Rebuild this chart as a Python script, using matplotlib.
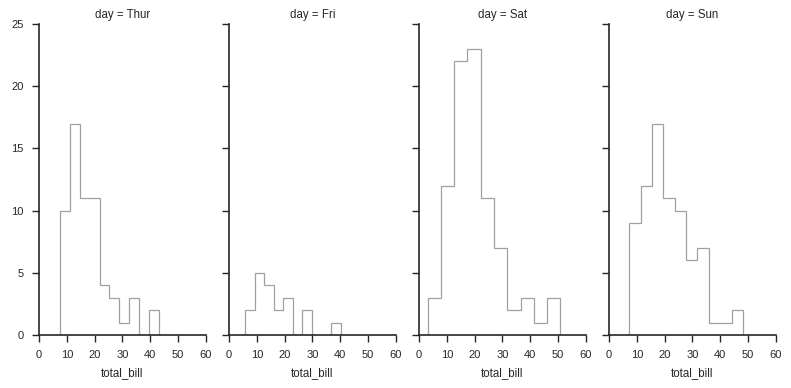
import numpy as np
import matplotlib
matplotlib.use("Agg")
import matplotlib.pyplot as plt
import seaborn as sns

# tips total_bill histograms per day, 10 bins each
days = ["Thur", "Fri", "Sat", "Sun"]
thur_edges = [7.51, 11.07, 14.63, 18.19, 21.75, 25.31, 28.87, 32.43, 35.99, 39.55, 43.11]
thur_counts = [10, 17, 11, 11, 4, 3, 1, 3, 0, 2]
fri_edges = [5.75, 9.19, 12.63, 16.08, 19.52, 22.96, 26.40, 29.84, 33.29, 36.73, 40.17]
fri_counts = [2, 5, 4, 2, 3, 0, 2, 0, 0, 1]
sat_edges = [3.07, 7.84, 12.62, 17.39, 22.17, 26.94, 31.71, 36.49, 41.26, 46.04, 50.81]
sat_counts = [3, 12, 22, 23, 11, 7, 2, 3, 1, 3]
sun_edges = [7.25, 11.34, 15.43, 19.53, 23.62, 27.71, 31.80, 35.89, 39.98, 44.08, 48.17]
sun_counts = [9, 12, 17, 11, 10, 6, 7, 1, 1, 2]

edges = [thur_edges, fri_edges, sat_edges, sun_edges]
counts = [thur_counts, fri_counts, sat_counts, sun_counts]

sns.set_style("ticks")
plt.rcParams["font.family"] = ["Liberation Sans", "DejaVu Sans"]
plt.rcParams["font.size"] = 8

fig, axes = plt.subplots(1, 4, figsize=(7.91, 3.88), dpi=100, sharey=True)
for i, (ax, day, e, c) in enumerate(zip(axes, days, edges, counts)):
    ax.set_position([0.0493 + i * 0.2402, 0.1366, 0.2111, 0.8015])
    ax.hist(e[:-1], bins=e, weights=c, histtype="step", color="#a0a0a0", lw=0.9)
    ax.set_title(f"day = {day}", fontsize=8.3, pad=4)
    ax.set_xlim(0, 60)
    ax.set_ylim(0, 25)
    ax.set_xticks(range(0, 61, 10))
    ax.set_yticks(range(0, 26, 5))
    ax.set_xlabel("total_bill", fontsize=8.3, labelpad=5)
    ax.tick_params(labelsize=8, length=5, width=1, pad=6, color="#262626")
    for s in ["left", "bottom"]:
        ax.spines[s].set_linewidth(1.2)
        ax.spines[s].set_color("#262626")
sns.despine(fig)
fig.savefig("out.png")
